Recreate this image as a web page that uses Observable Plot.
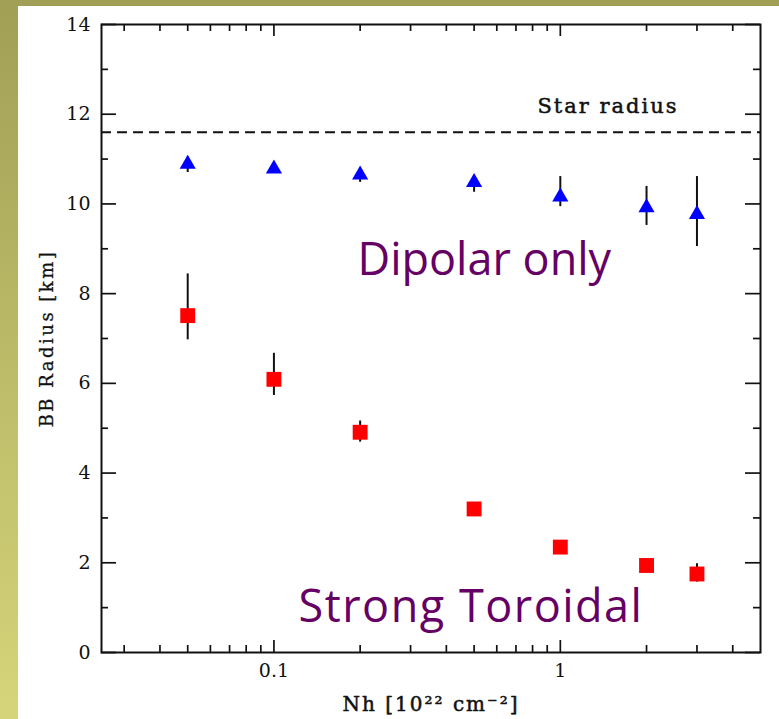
<!DOCTYPE html>
<html>
<head>
<meta charset="utf-8">
<script src="https://cdn.jsdelivr.net/npm/d3@7"></script>
<script src="https://cdn.jsdelivr.net/npm/@observablehq/plot@0.6"></script>
<style>
  html, body { margin: 0; padding: 0; }
  #page {
    width: 779px; height: 719px; box-sizing: border-box;
    padding: 6px 0 0 18px;
    background: linear-gradient(to bottom, #a09f55 0%, #b9b866 45%, #d6d57b 100%);
  }
  #page svg { display: block; background: #fff; }
</style>
</head>
<body>
<div id="page"></div>
<script>
// Column density (10^22 cm^-2) of each fit
const nh = [0.05, 0.1, 0.2, 0.5, 1, 2, 3];

// Blackbody radius (km), dipolar-only field
const dipolarRadius = [10.89, 10.78, 10.65, 10.48, 10.16, 9.92, 9.77];
const dipolarLow    = [10.70, 10.70, 10.48, 10.26,  9.94, 9.52, 9.05];
const dipolarHigh   = [11.05, 10.86, 10.80, 10.60, 10.61, 10.39, 10.61];

// Blackbody radius (km), strong toroidal field
const toroidalRadius = [7.51, 6.09, 4.91, 3.20, 2.35, 1.94, 1.75];
const toroidalLow    = [6.97, 5.73, 4.69, 3.10, 2.28, 1.88, 1.57];
const toroidalHigh   = [8.44, 6.67, 5.16, 3.30, 2.42, 2.00, 1.98];

// Neutron star radius (km)
const starRadius = 11.6;

// Axis ticks and labels
const xMajorTicks = [0.1, 1];
const xTickLabels = ["0.1", "1"];
const xMinorTicks = [0.03, 0.04, 0.05, 0.06, 0.07, 0.08, 0.09,
                     0.2, 0.3, 0.4, 0.5, 0.6, 0.7, 0.8, 0.9, 2, 3, 4];
const yMajorTicks = [0, 2, 4, 6, 8, 10, 12, 14];
const yMinorTicks = [1, 3, 5, 7, 9, 11, 13];

const xTitle = "Nh [10²² cm⁻²]";
const yTitle = "BB Radius [km]";
const refLabel = "Star radius";
const dipolarLabel = "Dipolar only";
const toroidalLabel = "Strong Toroidal";

const dipolar = nh.map((x, i) => ({x, y: dipolarRadius[i], lo: dipolarLow[i], hi: dipolarHigh[i]}));
const toroidal = nh.map((x, i) => ({x, y: toroidalRadius[i], lo: toroidalLow[i], hi: toroidalHigh[i]}));

const W = 761, H = 713;
const mL = 83, mR = 19, mT = 18, mB = 67;
const innerW = W - mL - mR, innerH = H - mT - mB;
const ink = "#111";
const serif = "'DejaVu Serif', serif";
const handFont = "'Comic Sans MS', 'Open Sans', sans-serif";
// a thin outline in the text colour gives the labels a heavier stroke
const heavy = {stroke: ink, strokeWidth: 0.5, fill: ink};

// inward ticks of a fixed pixel length along each edge of the frame
const edgeTicksX = (ticks, len) => [
  Plot.tickX(ticks, {x: d => d, insetTop: innerH - len, stroke: ink, strokeWidth: 1.7}),
  Plot.tickX(ticks, {x: d => d, insetBottom: innerH - len, stroke: ink, strokeWidth: 1.7})
];
const edgeTicksY = (ticks, len) => [
  Plot.tickY(ticks, {y: d => d, insetRight: innerW - len, stroke: ink, strokeWidth: 1.7}),
  Plot.tickY(ticks, {y: d => d, insetLeft: innerW - len, stroke: ink, strokeWidth: 1.7})
];

const chart = Plot.plot({
  width: W, height: H,
  marginLeft: mL, marginRight: mR, marginTop: mT, marginBottom: mB,
  style: {fontFamily: serif, fontSize: "20px", color: ink, background: "white"},
  x: {type: "log", domain: [0.025, 5]},
  y: {domain: [0, 14]},
  marks: [
    ...edgeTicksX(xMinorTicks, 7),
    ...edgeTicksX(xMajorTicks, 12),
    ...edgeTicksY(yMinorTicks, 7),
    ...edgeTicksY(yMajorTicks, 15),
    Plot.frame({stroke: ink, strokeWidth: 2}),
    Plot.axisX(xMajorTicks, {
      tickSize: 0, tickPadding: 11, label: null, fontSize: 19, ...heavy,
      tickFormat: d => xTickLabels[xMajorTicks.indexOf(d)]
    }),
    Plot.axisY(yMajorTicks, {tickSize: 0, tickPadding: 11, label: null, fontSize: 19, ...heavy}),
    Plot.text([xTitle], {
      frameAnchor: "bottom", lineAnchor: "middle", textAnchor: "middle",
      dy: 52, fontSize: 20, ...heavy
    }),
    Plot.text([yTitle], {
      frameAnchor: "left", lineAnchor: "middle", textAnchor: "middle",
      dx: -54, rotate: -90, fontSize: 18, ...heavy, strokeWidth: 0.3
    }),

    // star radius reference
    Plot.ruleY([starRadius], {y: d => d, stroke: ink, strokeWidth: 2, strokeDasharray: "10,6"}),
    Plot.text([starRadius], {
      y: d => d, frameAnchor: "right", lineAnchor: "middle", textAnchor: "end",
      dx: -82, dy: -26, text: () => refLabel, fontSize: 21, ...heavy
    }),

    // error bars and markers
    Plot.ruleX(toroidal, {x: "x", y1: "lo", y2: "hi", stroke: ink, strokeWidth: 2}),
    Plot.ruleX(dipolar, {x: "x", y1: "lo", y2: "hi", stroke: ink, strokeWidth: 2}),
    Plot.dot(toroidal, {x: "x", y: "y", symbol: "square", r: 8.4, fill: "#ff0000", stroke: "none"}),
    Plot.dot(dipolar, {x: "x", y: "y", symbol: "triangle", r: 6, fill: "#0000ff", stroke: "none"}),

    // region annotations
    Plot.text([dipolarLabel], {
      frameAnchor: "top-left", lineAnchor: "middle", textAnchor: "start",
      dx: 256, dy: 236, fontSize: 45, fontFamily: handFont, fill: "#650065"
    }),
    Plot.text([toroidalLabel], {
      frameAnchor: "bottom-left", lineAnchor: "middle", textAnchor: "start",
      dx: 197, dy: -45, fontSize: 45, fontFamily: handFont, fill: "#650065"
    })
  ]
});

// wide letter spacing for the axis titles and the reference label
const spacing = new Map([[xTitle, "2px"], [yTitle, "2.5px"], [refLabel, "2px"], [toroidalLabel, "1.5px"]]);
chart.querySelectorAll("text").forEach(t => {
  const s = spacing.get(t.textContent);
  if (s) t.style.letterSpacing = s;
});

document.getElementById("page").appendChild(chart);
</script>
</body>
</html>
